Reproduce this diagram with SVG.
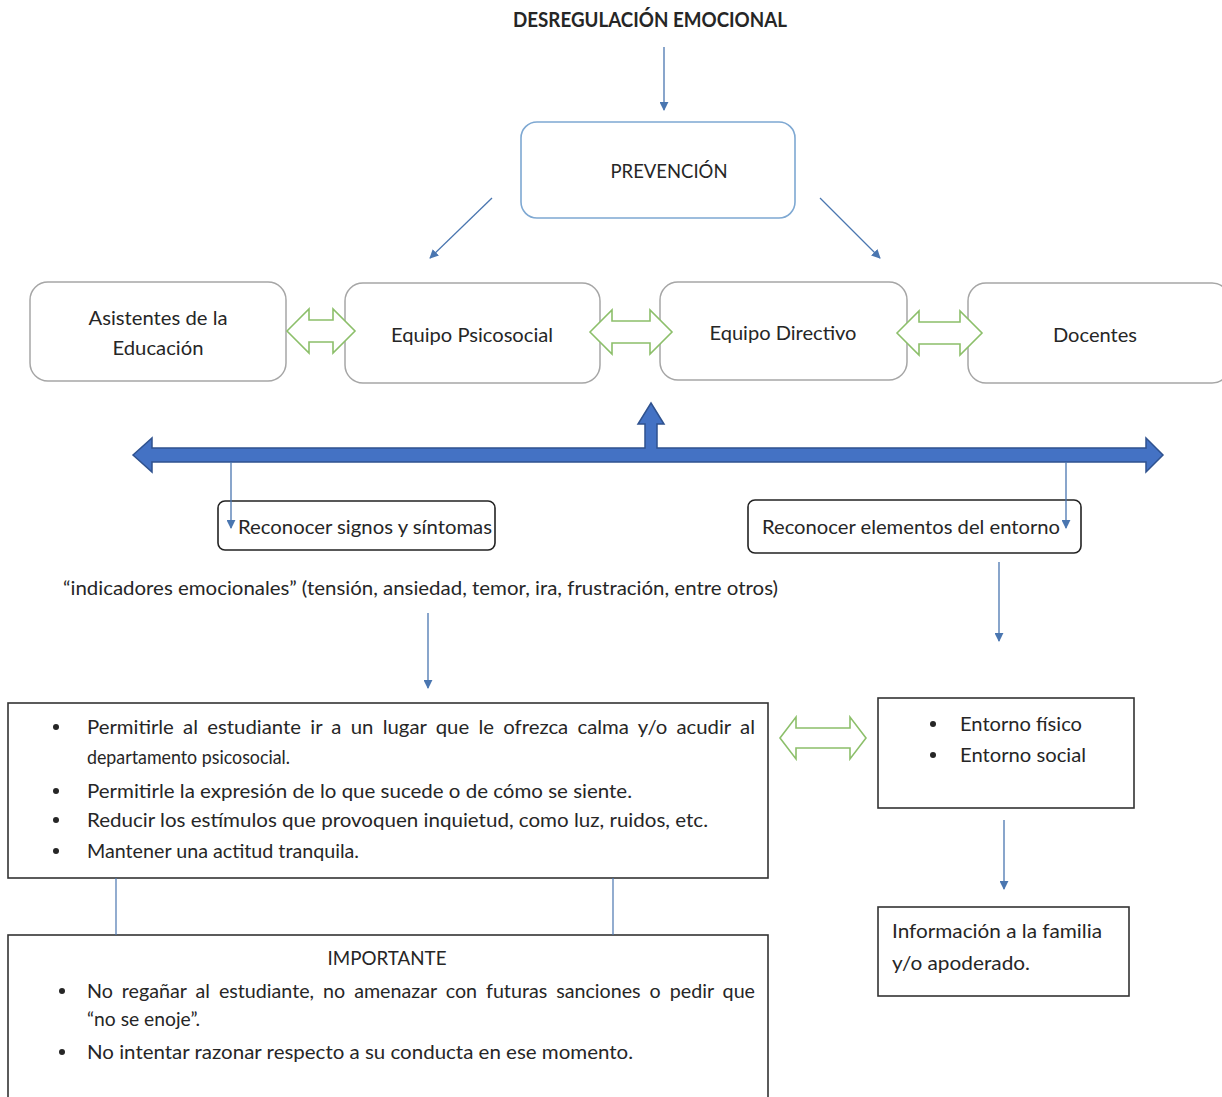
<svg xmlns="http://www.w3.org/2000/svg" width="1222" height="1097" viewBox="0 0 1222 1097">
<defs>
<marker id="ah" viewBox="0 0 10 10" refX="9" refY="5" markerWidth="9" markerHeight="9" markerUnits="userSpaceOnUse" orient="auto">
<path d="M0,0 L10,5 L0,10 Z" fill="#4a76b0"/>
</marker>
<style>
text{font-family:Lato,"Open Sans","Liberation Sans",sans-serif;font-size:20px;fill:#262626}
.t{font-weight:bold}
.c{text-anchor:middle}
.rbox{fill:#fff;stroke:#a6a6a6;stroke-width:1.5}
.sbox{fill:#fff;stroke:#333;stroke-width:1.6}
.thin{stroke:#4a76b0;stroke-width:1.3;fill:none}
.green{fill:#fff;stroke:#8cbf6a;stroke-width:1.6}
.line{stroke:#4a76b0;stroke-width:1.2}
</style>
</defs>
<rect width="1222" height="1097" fill="#fff"/>

<g id="title"><text class="t c" x="650" y="27" textLength="274" lengthAdjust="spacingAndGlyphs">DESREGULACIÓN EMOCIONAL</text></g>

<g id="prevencion">
<rect x="521" y="122" width="274" height="96" rx="16" fill="#fff" stroke="#7ea8d2" stroke-width="1.6"/>
<text class="c" x="669" y="178" textLength="117" lengthAdjust="spacingAndGlyphs">PREVENCIÓN</text>
</g>

<g id="asistentes">
<rect class="rbox" x="30" y="282" width="256" height="99" rx="18"/>
<text class="c" x="158" y="325" textLength="139" lengthAdjust="spacingAndGlyphs">Asistentes de la</text>
<text class="c" x="158" y="355" textLength="91" lengthAdjust="spacingAndGlyphs">Educación</text>
</g>
<g id="psicosocial">
<rect class="rbox" x="345" y="283" width="255" height="100" rx="18"/>
<text class="c" x="472" y="342" textLength="162" lengthAdjust="spacingAndGlyphs">Equipo Psicosocial</text>
</g>
<g id="directivo">
<rect class="rbox" x="660" y="282" width="247" height="98" rx="18"/>
<text class="c" x="783" y="340" textLength="147" lengthAdjust="spacingAndGlyphs">Equipo Directivo</text>
</g>
<g id="docentes">
<rect class="rbox" x="968" y="283" width="262" height="100" rx="18"/>
<text class="c" x="1095" y="342" textLength="84" lengthAdjust="spacingAndGlyphs">Docentes</text>
</g>

<g id="signos">
<rect x="218" y="501" width="277" height="49" rx="7" fill="#fff" stroke="#222" stroke-width="1.6"/>
<text x="238" y="534" textLength="254" lengthAdjust="spacingAndGlyphs">Reconocer signos y síntomas</text>
</g>
<g id="entorno-label">
<rect x="748" y="500" width="333" height="53" rx="7" fill="#fff" stroke="#222" stroke-width="1.6"/>
<text x="762" y="534" textLength="298" lengthAdjust="spacingAndGlyphs">Reconocer elementos del entorno</text>
</g>

<g id="indicadores"><text x="63" y="595" textLength="715" lengthAdjust="spacingAndGlyphs">“indicadores emocionales” (tensión, ansiedad, temor, ira, frustración, entre otros)</text></g>

<g id="acciones">
<rect class="sbox" x="8" y="703" width="760" height="175"/>
<g fill="#262626"><circle cx="56" cy="727" r="3"/><circle cx="56" cy="791" r="3"/><circle cx="56" cy="820" r="3"/><circle cx="56" cy="851" r="3"/></g>
<text x="87" y="734" textLength="668" lengthAdjust="spacingAndGlyphs" word-spacing="4">Permitirle al estudiante ir a un lugar que le ofrezca calma y/o acudir al</text>
<text x="87" y="764" textLength="203" lengthAdjust="spacingAndGlyphs">departamento psicosocial.</text>
<text x="87" y="798" textLength="545" lengthAdjust="spacingAndGlyphs">Permitirle la expresión de lo que sucede o de cómo se siente.</text>
<text x="87" y="827" textLength="621" lengthAdjust="spacingAndGlyphs">Reducir los estímulos que provoquen inquietud, como luz, ruidos, etc.</text>
<text x="87" y="858" textLength="272" lengthAdjust="spacingAndGlyphs">Mantener una actitud tranquila.</text>
</g>

<g id="entornos">
<rect class="sbox" x="878" y="698" width="256" height="110"/>
<g fill="#262626"><circle cx="933" cy="724" r="3"/><circle cx="933" cy="755" r="3"/></g>
<text x="960" y="731" textLength="122" lengthAdjust="spacingAndGlyphs">Entorno físico</text>
<text x="960" y="762" textLength="126" lengthAdjust="spacingAndGlyphs">Entorno social</text>
</g>

<g id="familia">
<rect class="sbox" x="878" y="907" width="251" height="89"/>
<text x="892" y="938" textLength="210" lengthAdjust="spacingAndGlyphs">Información a la familia</text>
<text x="892" y="970" textLength="138" lengthAdjust="spacingAndGlyphs">y/o apoderado.</text>
</g>

<g id="importante">
<rect class="sbox" x="8" y="935" width="760" height="170"/>
<text class="c" x="387" y="965" textLength="119" lengthAdjust="spacingAndGlyphs">IMPORTANTE</text>
<g fill="#262626"><circle cx="62" cy="991" r="3"/><circle cx="62" cy="1052" r="3"/></g>
<text x="87" y="998" textLength="668" lengthAdjust="spacingAndGlyphs" word-spacing="4">No regañar al estudiante, no amenazar con futuras sanciones o pedir que</text>
<text x="87" y="1026" textLength="113" lengthAdjust="spacingAndGlyphs">“no se enoje”.</text>
<text x="87" y="1059" textLength="546" lengthAdjust="spacingAndGlyphs">No intentar razonar respecto a su conducta en ese momento.</text>
</g>

<g id="connectors">
<line class="thin" x1="664" y1="47" x2="664" y2="110" marker-end="url(#ah)"/>
<line class="thin" x1="492" y1="198" x2="430" y2="258" marker-end="url(#ah)"/>
<line class="thin" x1="820" y1="198" x2="880" y2="258" marker-end="url(#ah)"/>
<path class="green" d="M287,331 L309,309 L309,320 L333,320 L333,309 L355,331 L333,353 L333,342 L309,342 L309,353 Z"/>
<path class="green" d="M590,332 L612,310 L612,321 L650,321 L650,310 L672,332 L650,354 L650,343 L612,343 L612,354 Z"/>
<path class="green" d="M897,333 L919,311 L919,322 L960,322 L960,311 L982,333 L960,355 L960,344 L919,344 L919,355 Z"/>
<path d="M133,455 L152,438 L152,448 L645,448 L645,424 L638,424 L651,403 L664,424 L657,424 L657,448 L1146,448 L1146,438 L1163,455 L1146,472 L1146,462 L152,462 L152,472 Z" fill="#4472c4" stroke="#2f528f" stroke-width="1.5" stroke-linejoin="miter"/>
<line class="thin" x1="231" y1="462" x2="231" y2="528" marker-end="url(#ah)"/>
<line class="thin" x1="1066" y1="462" x2="1066" y2="528" marker-end="url(#ah)"/>
<line class="thin" x1="428" y1="613" x2="428" y2="688" marker-end="url(#ah)"/>
<line class="thin" x1="999" y1="562" x2="999" y2="641" marker-end="url(#ah)"/>
<path class="green" d="M780,738 L796,717 L796,728 L850,728 L850,717 L866,738 L850,759 L850,748 L796,748 L796,759 Z"/>
<line class="thin" x1="1004" y1="820" x2="1004" y2="889" marker-end="url(#ah)"/>
<line class="line" x1="116" y1="878" x2="116" y2="935"/>
<line class="line" x1="613" y1="878" x2="613" y2="935"/>
</g>
</svg>
